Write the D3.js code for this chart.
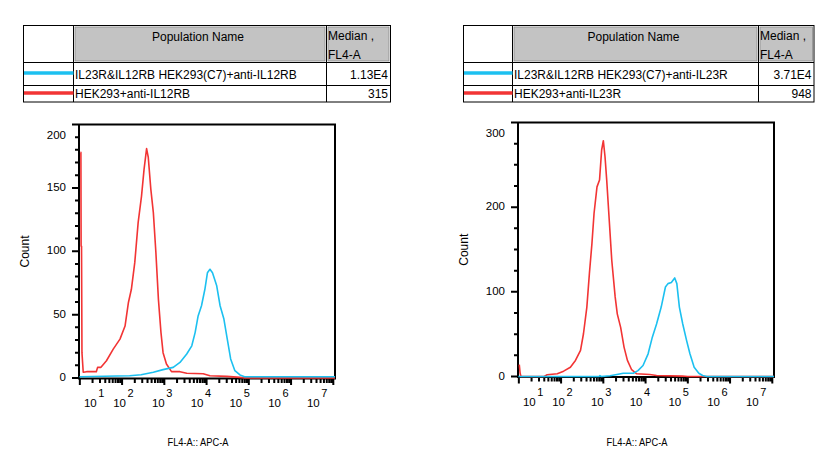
<!DOCTYPE html>
<html>
<head>
<meta charset="utf-8">
<script src="https://cdn.jsdelivr.net/npm/d3@7"></script>
<style>
  body { margin: 0; background: #fff; }
  svg { display: block; font-family: "Liberation Sans", Arial, sans-serif; }
</style>
</head>
<body>
<div id="vis"></div>
<script>
// histogram data, x given as log10(FL4-A), y as count

// left panel: anti-IL12RB
const leftRedLog   = [1.015, 1.025, 1.03, 1.04, 1.05, 1.08, 1.16, 1.39, 1.42, 1.5, 1.63, 1.79, 1.95, 2.07, 2.15, 2.22, 2.30, 2.38, 2.46, 2.52, 2.58, 2.62, 2.68, 2.74, 2.80, 2.86, 2.92, 2.97, 3.05, 3.17, 3.37, 3.53, 3.92, 4.08, 4.48, 4.79, 4.9, 7.04];
const leftRedCount = [178, 178, 104, 104, 20, 4.5, 5, 5, 8.4, 8.4, 13.6, 22.8, 30.7, 41, 59.6, 70, 91, 122.6, 143.5, 164.6, 181, 174, 149, 130.5, 99, 62, 36, 20, 11, 5, 5, 3.7, 3.3, 1.8, 1.3, 0.5, 0, 0];
const leftCyanLog   = [0.99, 2.18, 2.45, 2.74, 2.97, 3.21, 3.37, 3.53, 3.65, 3.73, 3.80, 3.88, 3.96, 4.02, 4.08, 4.14, 4.24, 4.32, 4.41, 4.49, 4.57, 4.67, 4.79, 4.9, 7.04];
const leftCyanCount = [1, 1.8, 2.6, 4.5, 6.6, 8.4, 12.3, 18.9, 25.4, 36, 49, 57, 70, 83, 85.8, 83, 72.7, 57, 46.5, 30.7, 15, 5.8, 2.4, 1, 1];

// right panel: anti-IL23R
const rightRedLog   = [1.01, 1.03, 1.05, 1.6, 1.67, 1.91, 2.06, 2.22, 2.34, 2.46, 2.53, 2.61, 2.67, 2.73, 2.78, 2.85, 2.91, 2.96, 3.00, 3.04, 3.08, 3.14, 3.20, 3.28, 3.33, 3.41, 3.49, 3.57, 3.67, 3.79, 4.10, 4.26, 4.87, 5.0, 7.04];
const rightRedCount = [14, 4, 0, 0, 2, 3.2, 6.3, 11, 19, 30.8, 50.5, 82, 121.5, 157, 192.5, 224, 232, 267.5, 278.5, 259.5, 232, 184.6, 137, 94, 74, 58, 34.7, 19, 8, 3.2, 2.4, 1.2, 0.5, 0, 0];
const rightCyanLog   = [0.99, 2.9, 2.92, 2.95, 3.16, 3.32, 3.47, 3.71, 3.82, 3.94, 4.06, 4.16, 4.26, 4.37, 4.47, 4.53, 4.61, 4.69, 4.74, 4.80, 4.88, 4.97, 5.05, 5.15, 5.26, 5.35, 5.45, 7.04];
const rightCyanCount = [0, 0, 1, 0, 0.8, 2.4, 3.9, 3.9, 7, 13, 26.8, 46.5, 62, 82, 105.7, 109.7, 111, 116.4, 109.7, 82, 62, 42.6, 26.8, 11, 3.9, 1.2, 0, 0];

// legend tables
const leftPops = ["IL23R&IL12RB HEK293(C7)+anti-IL12RB", "HEK293+anti-IL12RB"];
const leftMedians = ["1.13E4", "315"];
const rightPops = ["IL23R&IL12RB HEK293(C7)+anti-IL23R", "HEK293+anti-IL23R"];
const rightMedians = ["3.71E4", "948"];

const decades = [1, 2, 3, 4, 5, 6, 7];

const CYAN = "#1cc0f0";
const RED = "#f23434";

const W = 829, H = 456;

const panels = [
  {
    frame: [79, 124.5, 335, 378.5], yMax: 200, yMajor: 50, yMinor: 10,
    table: { xs: [23.5, 73.5, 326.5, 390.5], ys: [25.5, 62.5, 85.5, 102] },
    pops: leftPops, medians: leftMedians,
    series: [
      { log: leftRedLog, count: leftRedCount, color: RED },
      { log: leftCyanLog, count: leftCyanCount, color: CYAN }
    ]
  },
  {
    frame: [518, 122.5, 774, 377], yMax: 300, yMajor: 100, yMinor: 25,
    table: { xs: [463.5, 512.5, 758.5, 814], ys: [25.5, 62.5, 85.5, 102] },
    pops: rightPops, medians: rightMedians,
    series: [
      { log: rightRedLog, count: rightRedCount, color: RED },
      { log: rightCyanLog, count: rightCyanCount, color: CYAN }
    ]
  }
];

const svg = d3.select('#vis')
  .append('svg')
  .attr('width', W)
  .attr('height', H);

svg.append('rect').attr('width', W).attr('height', H).attr('fill', '#fff');

function drawTable(p) {
  const g = svg.append('g');
  const xs = p.table.xs, ys = p.table.ys;

  // gray header cells
  [1, 2].forEach(i => {
    g.append('rect')
      .attr('x', xs[i] + 1.5).attr('y', ys[0] + 1.5)
      .attr('width', xs[i + 1] - xs[i] - 3)
      .attr('height', ys[1] - ys[0] - 3)
      .attr('fill', '#c3c3c3')
      .attr('stroke', '#8a8a8a')
      .attr('stroke-width', 0.8);
  });

  g.append('rect')
    .attr('x', xs[0]).attr('y', ys[0])
    .attr('width', xs[3] - xs[0]).attr('height', ys[3] - ys[0])
    .attr('fill', 'none').attr('stroke', '#000').attr('stroke-width', 1);

  [xs[1], xs[2]].forEach(x => {
    g.append('line').attr('x1', x).attr('x2', x).attr('y1', ys[0]).attr('y2', ys[3])
      .attr('stroke', '#000').attr('stroke-width', 1);
  });
  [ys[1], ys[2]].forEach(y => {
    g.append('line').attr('x1', xs[0]).attr('x2', xs[3]).attr('y1', y).attr('y2', y)
      .attr('stroke', '#000').attr('stroke-width', 1);
  });

  g.append('text')
    .attr('x', (xs[1] + xs[2]) / 2 - 2).attr('y', 40.5)
    .attr('text-anchor', 'middle').attr('font-size', 12)
    .text('Population Name');
  g.append('text').attr('x', xs[2] + 1.5).attr('y', 39.5).attr('font-size', 12).text('Median ,');
  g.append('text').attr('x', xs[2] + 1.5).attr('y', 59).attr('font-size', 12).text('FL4-A');

  // rows: cyan population first, red second
  const rowColors = [CYAN, RED];
  const lineY = [73, 93];
  const textY = [78.5, 98];
  p.pops.forEach((name, i) => {
    g.append('line')
      .attr('x1', xs[0] + 0.5).attr('x2', xs[1])
      .attr('y1', lineY[i]).attr('y2', lineY[i])
      .attr('stroke', rowColors[i]).attr('stroke-width', 3.6);
    g.append('text').attr('x', xs[1] + 1.5).attr('y', textY[i])
      .attr('font-size', 12).text(name);
    g.append('text').attr('x', xs[3] - 2.5).attr('y', textY[i])
      .attr('text-anchor', 'end').attr('font-size', 12).text(p.medians[i]);
  });
}

function drawPlot(p) {
  const [left, top, right, bottom] = p.frame;
  const g = svg.append('g');

  const xScale = d3.scaleLog()
    .domain([Math.pow(10, 0.98), Math.pow(10, 7.04)])
    .range([left, right]);
  const yScale = d3.scaleLinear()
    .domain([0, p.yMax])
    .range([bottom - 0.5, top]);

  const yAll = d3.range(0, p.yMax + 0.001, p.yMinor);
  const yMajors = yAll.filter(v => v % p.yMajor === 0);

  const xTicks = [];
  decades.forEach(k => {
    xTicks.push({ v: Math.pow(10, k), major: true });
    if (k < 7) d3.range(2, 10).forEach(m => xTicks.push({ v: m * Math.pow(10, k), major: false }));
  });

  // frame and all tick marks in one path
  const fp = d3.path();
  fp.rect(left, top, right - left, bottom - top);
  yAll.forEach(v => {
    const yy = yScale(v);
    fp.moveTo(left, yy);
    fp.lineTo(left - (v % p.yMajor === 0 ? 7 : 4), yy);
  });
  xTicks.forEach(d => {
    const xx = xScale(d.v);
    fp.moveTo(xx, bottom);
    fp.lineTo(xx, bottom + (d.major ? 6.5 : 4.5));
  });
  g.append('path')
    .attr('d', fp.toString())
    .attr('fill', 'none')
    .attr('stroke', '#000')
    .attr('stroke-width', 2);

  yMajors.forEach(v => {
    g.append('text')
      .attr('x', left - 13)
      .attr('y', yScale(v) + (v === p.yMax ? 10 : -1))
      .attr('dy', '0.35em')
      .attr('text-anchor', 'end')
      .attr('font-size', 11.5)
      .text(v);
  });

  decades.forEach(k => {
    const xv = xScale(Math.pow(10, k));
    const lx = k === 1 ? xv + 10.5 : xv - 2.5 - 3.5 * (k - 2);
    g.append('text')
      .attr('x', lx).attr('y', bottom + 28.5)
      .attr('text-anchor', 'middle').attr('font-size', 11.5)
      .text('10');
    g.append('text')
      .attr('x', lx + 8).attr('y', bottom + 18.5)
      .attr('font-size', 11)
      .text(k);
  });

  // axis titles
  g.append('text')
    .attr('transform', `translate(${left - 50},${(top + bottom) / 2}) rotate(-90)`)
    .attr('text-anchor', 'middle').attr('font-size', 12)
    .text('Count');
  g.append('text')
    .attr('x', (left + right) / 2 - 9).attr('y', 445.5)
    .attr('text-anchor', 'middle').attr('font-size', 11.5)
    .attr('textLength', 61).attr('lengthAdjust', 'spacingAndGlyphs')
    .text('FL4-A:: APC-A');

  // histograms
  const line = d3.line()
    .x(d => xScale(Math.pow(10, d[0])))
    .y(d => yScale(d[1]));

  p.series.forEach(s => {
    const pts = s.log.map((v, i) => [v, s.count[i]]);
    g.append('path')
      .datum(pts)
      .attr('d', line)
      .attr('fill', 'none')
      .attr('stroke', s.color)
      .attr('stroke-width', 1.6)
      .attr('stroke-linejoin', 'round');
  });
}

panels.forEach(p => {
  drawTable(p);
  drawPlot(p);
});
</script>
</body>
</html>
